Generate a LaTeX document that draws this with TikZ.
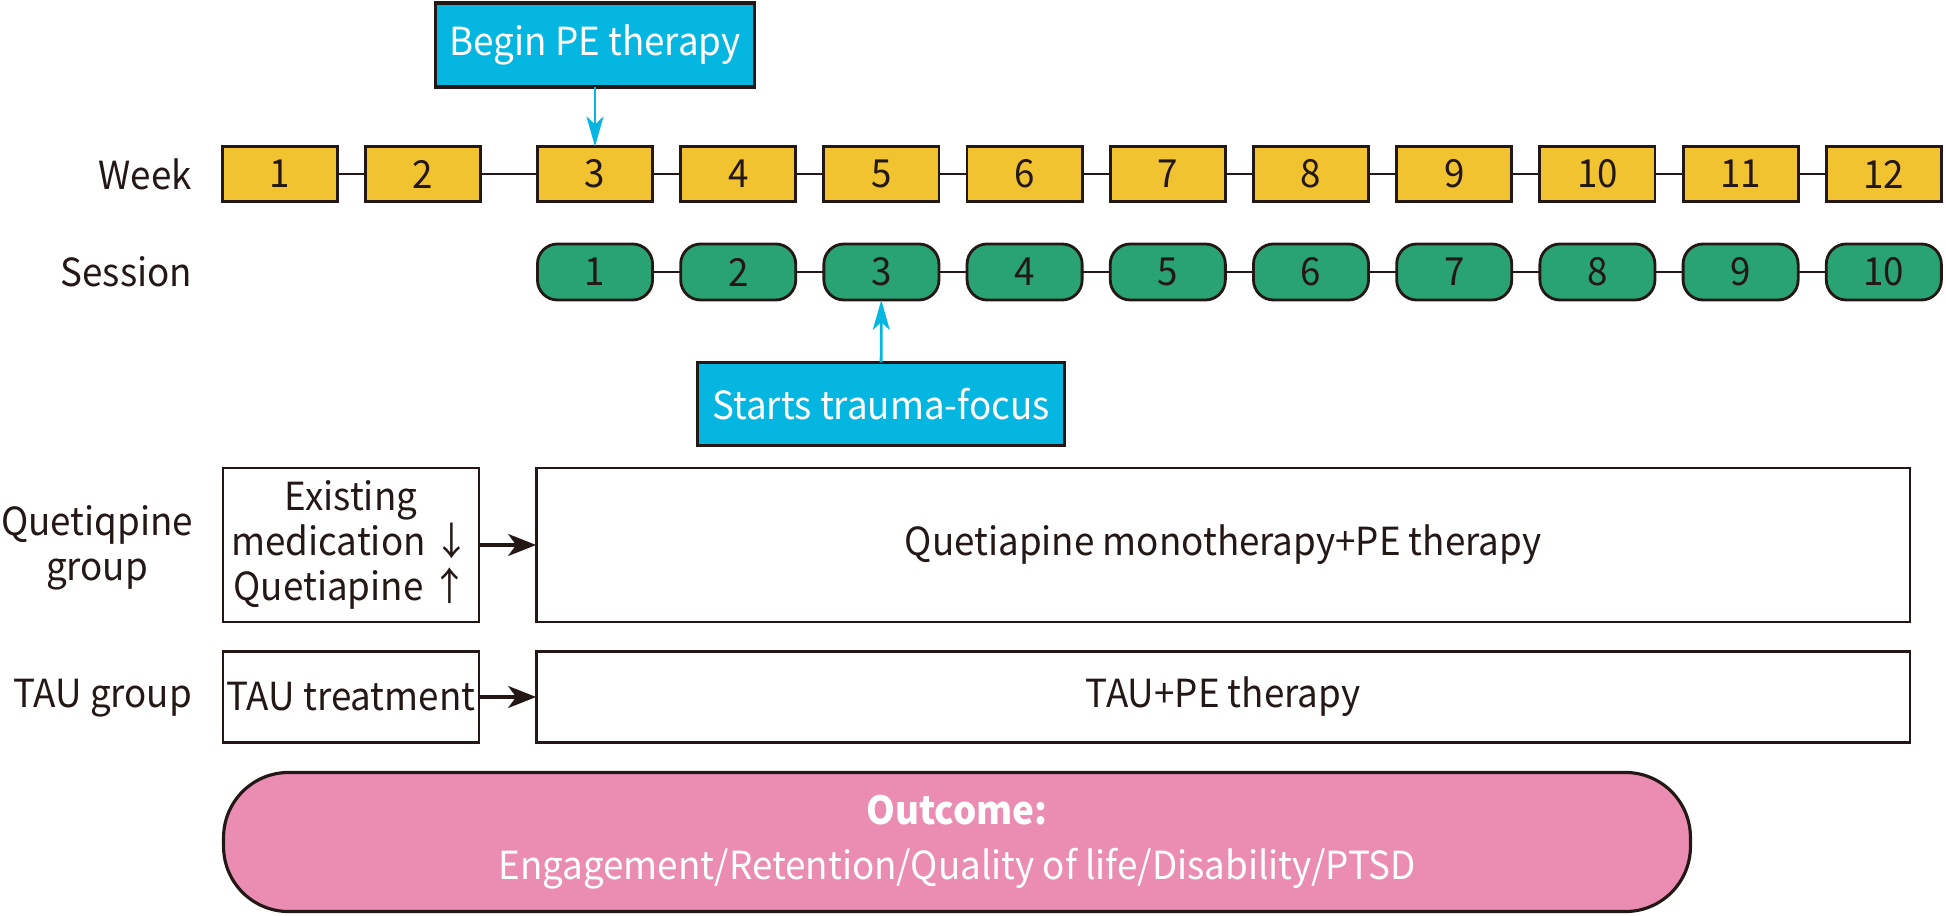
\documentclass[tikz,border=0pt]{standalone}
\usepackage{fontspec}
\setmainfont[FakeStretch=0.95]{Noto Sans CJK SC}
\usetikzlibrary{arrows.meta,positioning}
\definecolor{WeekClr}{RGB}{242,195,48}
\definecolor{SessClr}{RGB}{41,163,116}
\definecolor{NoteClr}{RGB}{5,182,224}
\definecolor{OutClr}{RGB}{235,141,178}
\definecolor{LineClr}{RGB}{35,24,21}

\begin{document}
\begin{tikzpicture}[x=0.01cm,y=-0.01cm,
  font=\fontsize{11}{12.8}\selectfont,
  every node/.style={inner sep=0pt,outer sep=0pt,text=LineClr},
  weekbox/.style={draw=LineClr,line width=0.8pt,fill=WeekClr,minimum width=1.15cm,minimum height=0.55cm},
  sessbox/.style={weekbox,fill=SessClr,rounded corners=0.2cm,minimum height=0.56cm},
  notebox/.style={draw=LineClr,line width=0.9pt,fill=NoteClr,text=white},
  groupbox/.style={draw=LineClr,line width=0.8pt,align=center},
  link/.style={LineClr,line width=0.8pt},
  notearrow/.style={NoteClr,line width=0.8pt,-{Stealth[length=0.3cm,width=0.17cm,inset=0.08cm]}},
  grouparrow/.style={LineClr,line width=0.9pt,-{Stealth[length=0.28cm,width=0.22cm,inset=0.08cm]}}]
\useasboundingbox (0,0) rectangle (1946,916);

% Week and session rows.
\node[anchor=east] (WeekLbl) at (192,174) {Week};
\node[anchor=east] (SessLbl) at (192,272) {Session};
\node[weekbox] (W1) at (280,174) {1};
\node[weekbox] (W2) at (423,174) {2};
\foreach \i [evaluate=\i as \x using 595+(\i-3)*143.2] in {3,...,12}
  \node[weekbox] (W\i) at (\x,174) {\i};
\foreach \i [count=\j from 2] in {1,...,11}
  \draw[link] (W\i) -- (W\j);
\foreach \i [evaluate=\i as \x using 595+(\i-1)*143.2] in {1,...,10}
  \node[sessbox] (S\i) at (\x,272) {\i};
\foreach \i [count=\j from 2] in {1,...,9}
  \draw[link] (S\i) -- (S\j);

\node[notebox,minimum width=3.18cm,minimum height=0.84cm] (BeginPE) at (595,45) {Begin PE therapy};
\draw[notearrow] (BeginPE) -- (W3);
\node[notebox,minimum width=3.66cm,minimum height=0.83cm] (Trauma) at (881,404) {Starts trauma-focus};
\draw[notearrow] (Trauma) -- (S3);

% Groups.
\node[align=center] (QLbl) at (97,548) {Quetiqpine\\group};
\node[groupbox,minimum width=2.56cm,minimum height=1.54cm] (Exist) at (351,545)
  {Existing\\medication ↓\\Quetiapine ↑};
\node[groupbox,minimum width=13.73cm,minimum height=1.54cm] (QMono) at (1223,545)
  {Quetiapine monotherapy+PE therapy};
\draw[grouparrow] (Exist) -- (QMono);

\node[anchor=east] (TLbl) at (192,698) {TAU group};
\node[groupbox,minimum width=2.56cm,minimum height=0.91cm] (TauTr) at (351,697) {TAU treatment};
\node[groupbox,minimum width=13.73cm,minimum height=0.91cm] (TauPE) at (1223,697) {TAU+PE therapy};
\draw[grouparrow] (TauTr) -- (TauPE);

\node[draw=LineClr,line width=0.9pt,fill=OutClr,rounded corners=0.65cm,minimum width=14.66cm,
  minimum height=1.39cm,align=center,text=white] (Outcome) at (957,842)
  {\bfseries Outcome:\\[3pt]Engagement/Retention/Quality of life/Disability/PTSD};

\end{tikzpicture}
\end{document}
